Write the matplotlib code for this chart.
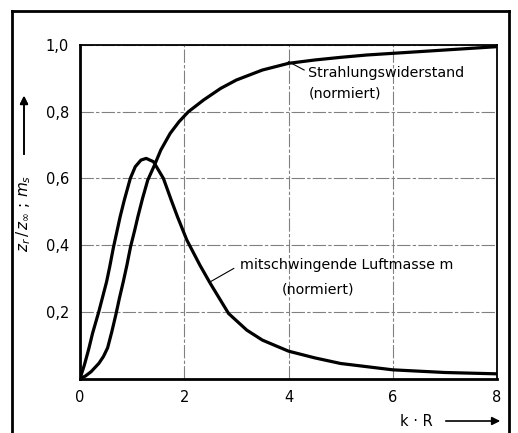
import matplotlib.pyplot as plt
from matplotlib.lines import Line2D

# Werte
kr_r = [0.0, 0.1, 0.21, 0.36, 0.45, 0.53, 0.61, 0.69, 0.755, 0.83, 0.9, 0.97, 1.05, 1.11,
        1.2, 1.3, 1.43, 1.55, 1.73, 1.9, 2.08, 2.37, 2.7, 3.0, 3.5, 4.0, 4.5, 5.0, 5.5,
        6.0, 7.0, 8.0]
r_s = [0.0, 0.007, 0.02, 0.045, 0.066, 0.092, 0.14, 0.193, 0.24, 0.29, 0.34, 0.395, 0.445,
       0.485, 0.54, 0.595, 0.64, 0.685, 0.735, 0.77, 0.8, 0.835, 0.87, 0.895, 0.925, 0.945,
       0.955, 0.963, 0.97, 0.975, 0.985, 0.995]

kr_m = [0.0, 0.083, 0.167, 0.24, 0.36, 0.435, 0.51, 0.57, 0.64, 0.77, 0.85, 0.965, 1.06,
        1.17, 1.27, 1.41, 1.6, 1.75, 1.87, 2.05, 2.3, 2.5, 2.85, 3.2, 3.5, 4.0, 4.5, 5.0,
        6.0, 7.0, 8.0]
m_s = [0.0, 0.04, 0.088, 0.135, 0.2, 0.245, 0.29, 0.335, 0.392, 0.485, 0.535, 0.6, 0.635,
       0.655, 0.66, 0.65, 0.6, 0.535, 0.485, 0.415, 0.34, 0.285, 0.195, 0.145, 0.115, 0.082,
       0.062, 0.045, 0.026, 0.018, 0.014]

xticks = [0, 2, 4, 6, 8]
yticks = [0.2, 0.4, 0.6, 0.8, 1.0]
ytick_labels = ['0,2', '0,4', '0,6', '0,8', '1,0']

plt.rcParams['font.family'] = ['DejaVu Sans']
plt.rcParams['mathtext.fontset'] = 'dejavusans'

fig = plt.figure(figsize=(5.18, 4.33), dpi=100)
ax = fig.add_axes([80 / 518, 1 - 378.5 / 433, 417 / 518, 333.5 / 433])

ax.plot(kr_r, r_s, color='black', lw=2.3, solid_capstyle='round', solid_joinstyle='round')
ax.plot(kr_m, m_s, color='black', lw=2.3, solid_capstyle='round', solid_joinstyle='round')

ax.set_xlim(0, 8)
ax.set_ylim(0, 1.0)
ax.set_xticks(xticks)
ax.set_xticklabels([str(t) for t in xticks])
ax.set_yticks(yticks)
ax.set_yticklabels(ytick_labels)
ax.tick_params(length=0, labelsize=10.5, pad=8)
ax.grid(True, color='0.5', lw=0.8, linestyle=(0, (12, 2, 3, 2)))
for side in ['left', 'bottom']:
    ax.spines[side].set_linewidth(2.0)
for side in ['top', 'right']:
    ax.spines[side].set_linewidth(1.3)

# Beschriftungen
ax.text(4.38, 0.916, 'Strahlungswiderstand', fontsize=10.3, va='center', ha='left')
ax.text(4.38, 0.856, '(normiert)', fontsize=10.3, va='center', ha='left')
ax.plot([4.0, 4.3], [0.95, 0.925], color='black', lw=0.8)

ax.text(3.06, 0.34, 'mitschwingende Luftmasse m', fontsize=10.3, va='center', ha='left')
ax.text(3.88, 0.268, '(normiert)', fontsize=10.3, va='center', ha='left')
ax.plot([2.5, 2.95], [0.29, 0.33], color='black', lw=0.8)

# Achsenbeschriftungen mit Pfeilen
fig.text(24 / 518, 1 - 213 / 433, r'$z_r\,/\,z_\infty\;;\,m_s$', rotation=90,
         ha='center', va='center', fontsize=11)
fig.add_artist(plt.annotate('', xy=(24 / 518, 1 - 93 / 433), xytext=(24 / 518, 1 - 157 / 433),
                            xycoords='figure fraction',
                            arrowprops=dict(arrowstyle='-|>', color='black', lw=1.2,
                                            mutation_scale=12)))
fig.text(416 / 518, 1 - 421 / 433, 'k · R', ha='center', va='center', fontsize=10.5)
ax.annotate('', xy=(503 / 518, 1 - 421 / 433), xytext=(443 / 518, 1 - 421 / 433),
            xycoords='figure fraction',
            arrowprops=dict(arrowstyle='-|>', color='black', lw=1.2, mutation_scale=12))

# Rahmen
fig.add_artist(Line2D([12 / 518, 12 / 518], [0, 1 - 11 / 433], color='black', lw=2))
fig.add_artist(Line2D([12 / 518, 509 / 518], [1 - 11 / 433, 1 - 11 / 433], color='black', lw=2))
fig.add_artist(Line2D([509 / 518, 509 / 518], [0, 1 - 11 / 433], color='black', lw=2))

fig.savefig('out.png', dpi=100)
